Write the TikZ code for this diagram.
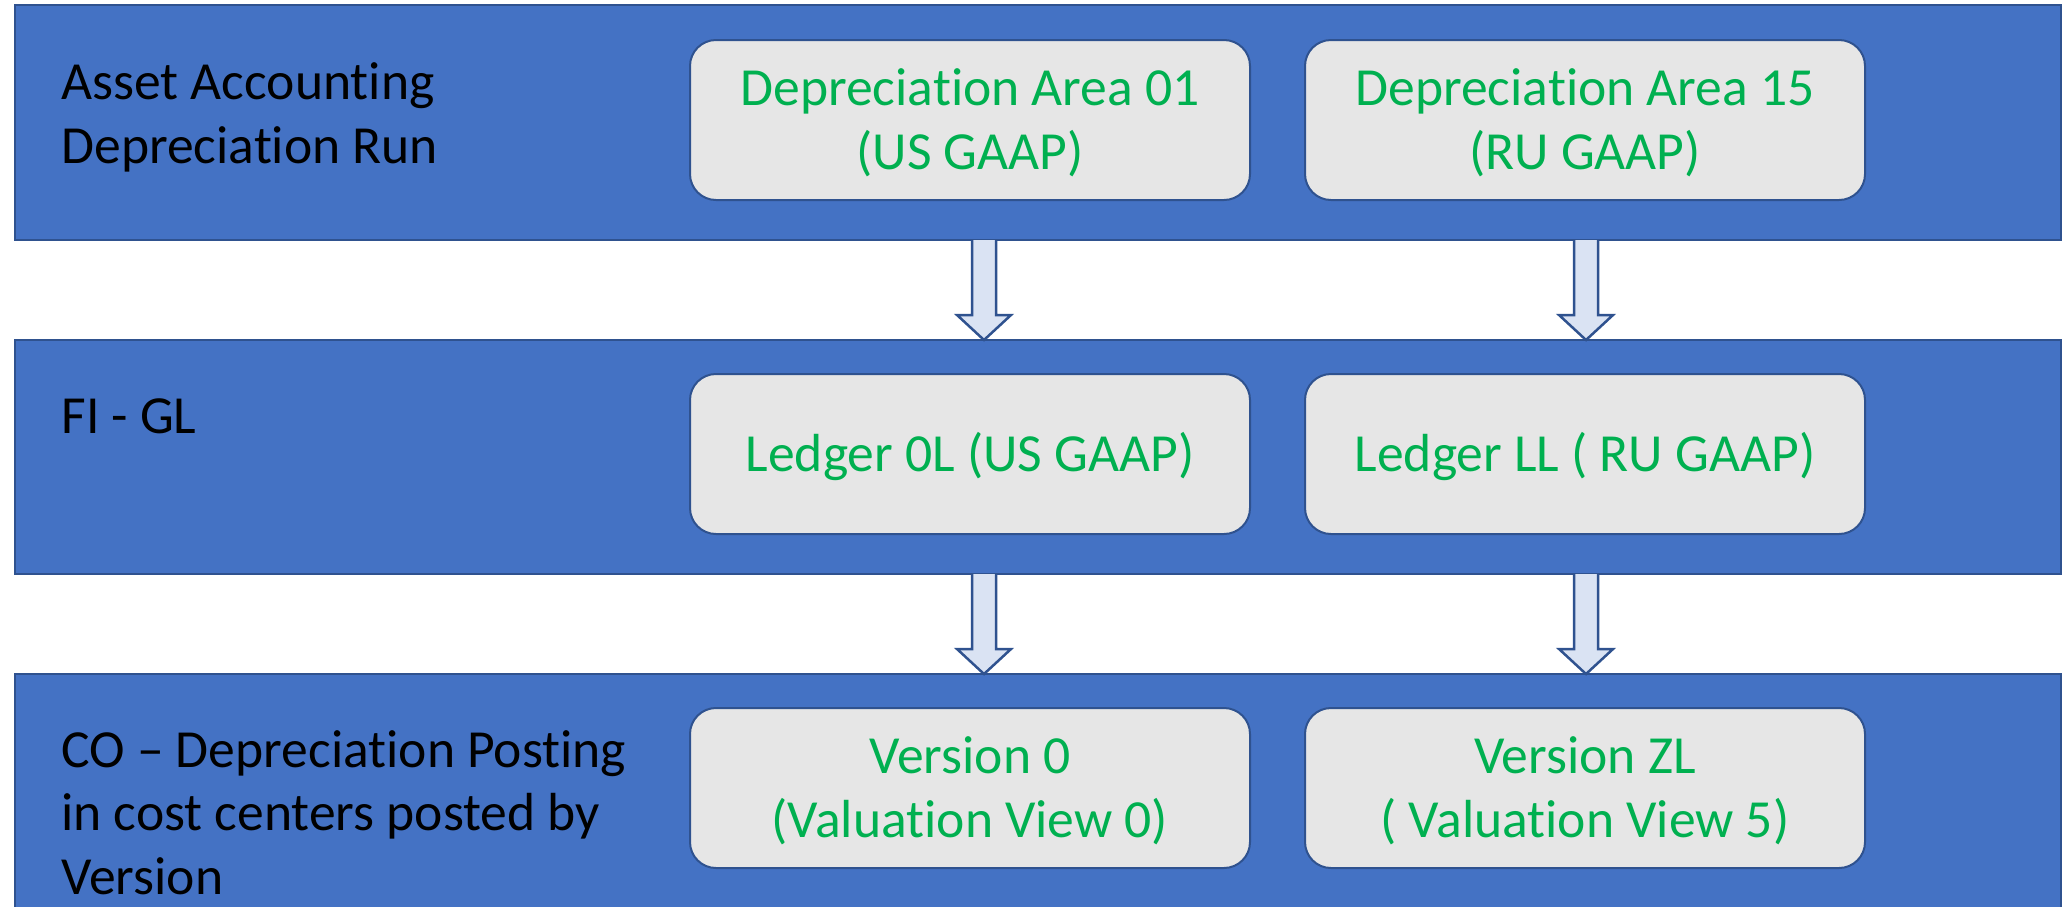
\documentclass[tikz,border=0pt]{standalone}
\usepackage{fontspec}
\setmainfont{Carlito}[Ligatures=NoCommon]
\usetikzlibrary{calc}

\definecolor{bandblue}{HTML}{4472C4}
\definecolor{edgeblue}{HTML}{2F528F}
\definecolor{boxgrey}{HTML}{E6E6E6}
\definecolor{arrowfill}{HTML}{DAE3F3}
\definecolor{gaapgreen}{HTML}{00B050}

% hollow block arrow pointing down from #1 to #2
\newcommand\layerarrow[2]{%
  \draw[flow] let \p1=(#1), \p2=(#2) in
    (\x1-6pt,\y1) -- (\x1-6pt,\y2+12.5pt) -- (\x1-13.5pt,\y2+12.5pt) --
    (\x2,\y2) -- (\x1+13.5pt,\y2+12.5pt) -- (\x1+6pt,\y2+12.5pt) -- (\x1+6pt,\y1);}

\begin{document}
\begin{tikzpicture}[x=0.5pt,y=-0.5pt,
  band/.style={draw=edgeblue, line width=1.25pt, fill=bandblue,
    minimum width=1023pt, inner sep=0pt, outer sep=0pt},
  ledgerbox/.style={draw=edgeblue, line width=1pt, fill=boxgrey,
    rounded corners=13pt, minimum width=280pt, minimum height=80pt,
    inner sep=0pt, outer sep=0pt, text=gaapgreen, align=center,
    font=\fontsize{26.8}{32}\selectfont, text depth=0pt},
  oneline/.style={text height=17.7pt},
  twoline/.style={text height=49pt},
  layertext/.style={anchor=base west, align=left, inner sep=0pt,
    font=\fontsize{26.8}{32}\selectfont},
  flow/.style={draw=edgeblue, line width=1.25pt, fill=arrowfill, line join=miter}
]
\useasboundingbox (0,0) rectangle (2064,906);
\clip (0,0) rectangle (2064,906);

% the three layers
\node[band, minimum height=117.5pt] (b1) at (1038,122.5) {};
\node[band, minimum height=117pt] (b2) at (1038,457) {};
\node[band, minimum height=140pt] (b3) at (1038,814) {};

% layer titles (anchored at the baseline of their last line)
\node[layertext] (t1) at (61,163) {Asset Accounting\\Depreciation Run};
\node[layertext] (t2) at (61,433) {FI - GL};
\node[layertext, font=\fontsize{26.8}{31.75}\selectfont] (t3) at (61,894)
  {CO – Depreciation Posting\\in cost centers posted by\\Version};

% valuation boxes
\node[ledgerbox, twoline] (d01) at (970,120) {Depreciation Area 01\\(US GAAP)};
\node[ledgerbox, twoline] (d15) at (1585,120) {Depreciation Area 15\\(RU GAAP)};
\node[ledgerbox, oneline] (l0) at (970,454) {Ledger 0L (US GAAP)};
\node[ledgerbox, oneline] (ll) at (1585,454) {Ledger LL ( RU GAAP)};
\node[ledgerbox, twoline] (v0) at (970,788) {Version 0\\(Valuation View 0)};
\node[ledgerbox, twoline] (vzl) at (1585,788) {Version ZL\\( Valuation View 5)};

% flow between layers
\coordinate (colL) at (984,0);
\coordinate (colR) at (1586,0);
\layerarrow{b1.south -| colL}{b2.north -| colL}
\layerarrow{b1.south -| colR}{b2.north -| colR}
\layerarrow{b2.south -| colL}{b3.north -| colL}
\layerarrow{b2.south -| colR}{b3.north -| colR}
\end{tikzpicture}
\end{document}
